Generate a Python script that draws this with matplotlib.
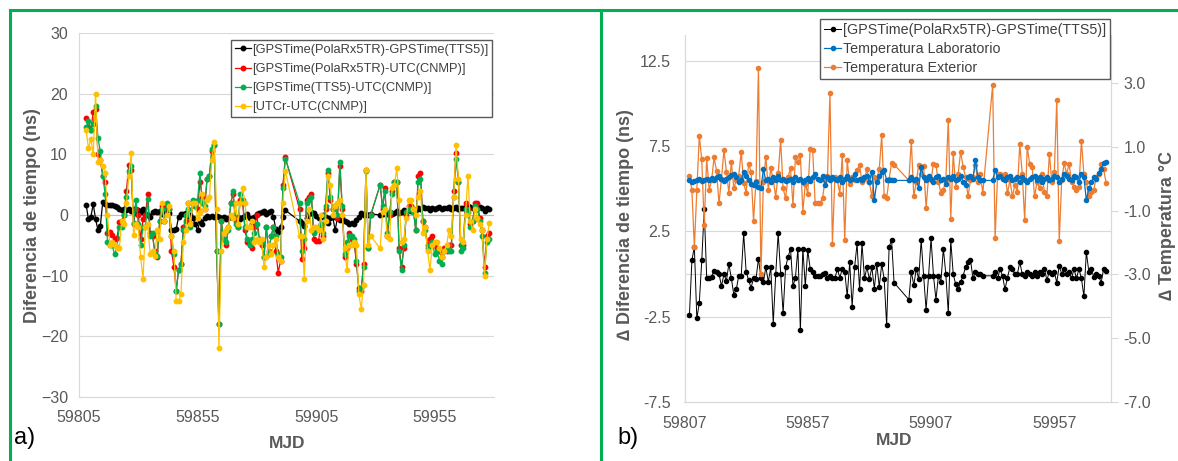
import numpy as np
import matplotlib.pyplot as plt
from matplotlib.lines import Line2D

plt.rcParams['font.family'] = ['Liberation Sans', 'DejaVu Sans']

## data: each series is split in 3 runs of consecutive days (gaps between runs)
a_starts = [59808, 59898, 59932]
b_starts = [59809, 59898, 59932]

# panel a) [ns]
a_black = [
    [1.7, -0.7, -0.3, 1.8, -0.7, -2.5, -1.8, 2.1, 1.8, 1.7,
     1.6, 1.6, 1.5, 1.3, 1.0, 0.8, 1.0, 0.8, 1.0, 0.7,
     1.0, 0.3, 0.8, 0.5, 1.0, 0.2, 0.0, -0.3, 0.5, 0.6,
     0.5, 0.7, 0.2, 0.5, 0.7, 0.3, -2.4, -2.5, -2.3, -0.3,
     0.2, 0.1, 0.3, -0.2, 0.0, -0.5, -1.5, -2.5, -1.0, -1.5,
     -0.5, -0.2, -0.3, -0.2, -0.4, -0.2, -0.3, -0.5, -0.3, -0.6,
     -0.5, -0.4, -0.3, -0.7, -0.3, -0.6, -0.4, -0.2, 0.2, -0.5,
     -1.5, -0.3, 0.2, 0.3, 0.5, 0.6, 0.2, 0.5, 0.6, -0.3,
     -2.3, -2.8, -2.0, -0.3, 0.8],
    [-1.0, -1.3, -1.8, -0.5, 0.2, 0.5, 0.4, -0.2, -0.5, -0.3,
     0.0, -0.3, -1.3, -0.5, -0.3, -2.5, -0.5, -0.8, -0.5, -1.0,
     -1.2, -1.5, -1.3, -1.5, -0.8, -0.3, 0.3, 0.0, 0.2, 0.0,
     0.2],
    [0.0, 0.2, 0.3, 0.1, 0.5, 0.2, 0.4, 0.6, 0.3, 0.5,
     0.8, 0.5, 0.9, 0.7, 1.0, 0.8, 1.2, 1.0, 1.3, 1.1,
     1.2, 0.9, 1.2, 1.0, 1.1, 1.3, 1.0, 1.2, 1.1, 1.4,
     1.0, 1.2, 1.3, 1.0, 1.2, 1.1, 1.4, 1.5, 1.3, 1.2,
     1.0, 1.4, 1.3, 1.2, 0.7, 1.2, 1.0],
]
a_red = [
    [16, 14.5, 14, 17, 17.5, 10, 9, 6.5, 5.5, -3,
     -2.8, -3.3, -4, -3.8, -1.2, -1, 0, 4, 8.3, 7.5,
     -1.5, 1, 0, -4, -0.7, 0, 3.5, -3, -3.5, -6,
     -7, -1, 1.5, -1, 1.5, 1, -6, -8.5, -12.5, -9,
     -8, -2, -1, 2, -1.5, 2, 1.5, 1, 5.5, 3,
     1, 6, 6.5, 10.5, 11.5, -6, -18, -1, -4, -5,
     -2, 2, 3.5, -1, -2, 2.5, 2, -2.5, -4.5, -5,
     -5.5, -2, 0, -4, -5, -7, -2, -6, -3.5, -2,
     -6, -9.5, -7.5, 5, 9.5],
    [1, -7.3, -5.5, 2.5, 3, 3.5, -4, -4.3, -4.3, -1.5,
     -3.5, 1, 7, 2.5, 1, 1.5, -0.5, 8, 1, -7,
     -5.5, -3, -4, -4.5, -8, -12, -12.5, -8, 7.5, -5.5,
     0],
    [5, 1, 4.5, -3.5, 0, 4, 5.5, 5.5, -5.5, -8.5,
     -5.5, 0, 1.5, 1.5, 1, -2.5, 6.5, 7, -1, -2,
     -5, -4, -3.5, -5, -5.5, -6, -7, -5.5, -6, -5,
     -5, 4, 10.3, 5.5, -5, -5, 2, 1, -1.5, -1,
     2, 2, -0.5, -2.5, -8.5, -3.5, -3],
]
a_green = [
    [14.5, 15.5, 14, 15, 18, 12.7, 10.5, 6.5, 3.5, -4.5,
     -5, -5, -6.5, -5.3, -2, -2, 0, 3, 7.3, 8,
     -1.3, 2.5, -1.5, -5, -2, -2, 2.7, -3.5, -3, -6.5,
     -6.8, -1, 1, -1, 2, 1, -3.5, -6.5, -12.5, -9,
     -8, -2.5, 0, 1, -2, 2.5, 1.5, 2.5, 7, 2,
     1.5, 6, 6.5, 10.8, 11.5, -6, -18, -1, -4, -4.5,
     -2.5, 2, 4, -1.5, -2, 3.5, 2.5, -2, -4, -5,
     -4, -3, -1.5, -4, -4.5, -7, -2, -6.5, -3.5, -2,
     -3.5, -6.5, -7, 4.5, 9.3],
    [2, -6, -4, 2, 2.5, 3, -3, -2.5, -2, -1.5,
     -3, 1.5, 7.5, 3, 1, 1.5, 0, 8.8, 1.5, -6.5,
     -4.5, -3.5, -3.5, -4, -7.5, -12.5, -12, -8.5, 7.3, -5.5,
     0],
    [5, 1.5, 4, -3, 0.5, 3.5, 5.5, 5.5, -6, -9,
     -5, 0.5, 1, 1, 0.5, -2.5, 5.5, 6, -1, -2.5,
     -5.5, -5, -4.5, -6.5, -6, -7.5, -8, -6, -5.5, -6,
     -6, 3, 9.3, 5.5, -6, -5.5, 1, 0.5, -2, -1,
     1.5, 1, -1, -3.5, -9.5, -4.5, -4],
]
a_yellow = [
    [14, 11, 12.5, 10, 20, 8.8, 9, 8, 7, 0,
     -5, -4.5, -5, -5.5, -5.5, -1, -1.5, 2, 6.5, 10.3,
     -3.3, -1.5, -2, -7, -10.5, -2, -1.5, -6.5, -6, -6.7,
     -2.5, -4, 2, -1, 0, 1.5, -3.5, -6, -14.2, -14.2,
     -13, -4.5, -2.5, 2, -1.5, 2, 2, -0.5, 0.5, 3.5,
     1, 2.5, 3, 9, 12, 1, -22, -6, -3, -2.5,
     -2, 0, -0.5, 2, -1.5, 2, 4.5, 2, -2, -2,
     -1, -4.5, -4, -4.5, -4, -8.5, -7, -5, -6.5, -5,
     -4, -7, -7.5, 2, 7.3],
    [-3.5, -3.5, -10.5, -1, 1, -2.5, -2, -2, -2.5, 0,
     -4, -1, 6.5, 5, 0, 1.5, 2, 2.5, 0, -5.5,
     -9, -5, -5, -4.5, -5, -13, -15.5, -11.5, 7.5, -5,
     -3.5],
    [-5.5, 0.5, 1, -3.5, -4, 4.5, 5, 7.7, 2.5, -4.5,
     -4, -0.5, 2.5, 2.5, 1, 0, 3, 4, -3, -2,
     -6, -9, -5, -4.5, -4.5, -5.5, -7, -6, -5, -2.5,
     -3.5, 3, 11.5, 6, -4, -4.5, 0, 6.5, -1, -2.5,
     1, -0.5, -1.5, -2.5, -10, -4, -1.3],
]

# panel b) delta time [ns] (left axis) and temperatures [C] (right axis)
b_black = [
    [-2.4, 0.8, 1.6, -2.6, -1.7, 0.8, 3.8, -0.2, -0.25, -0.15,
     0.2, 0.15, 0.0, -0.7, 0.0, -0.4, 0.6, -0.25, -1.2, -0.9,
     -0.1, -0.1, 2.4, 0.15, -0.35, -0.8, -0.25, -0.3, 0.9, -0.2,
     -0.45, 0.4, -0.45, 0.4, -2.9, 0.0, 2.4, 0.0, -2.3, 0.4,
     1.0, 1.5, -0.7, -0.2, 1.5, -3.3, 1.5, -0.7, 1.4, 0.3,
     0.15, -0.1, -0.1, -0.1, 0.0, 0.05, -0.25, -0.1, -0.25, -0.25,
     0.3, -0.2, 0.3, 0.15, -1.3, 0.7, -1.9, 0.4, 1.8, -0.9,
     1.8, -0.25, 0.4, -0.3, 0.4, -0.85, 0.6, -0.75, 0.6, -0.3,
     -3.0, 1.6, 2.0, -0.5],
    [-1.5, 0.15, -0.65, 0.3, -0.3, 2.0, -0.1, -2.1, -0.1, 2.1,
     -0.1, -1.5, -0.1, -0.45, 1.5, 0.0, -2.3, 2.0, 0.0, -0.6,
     -0.9, -0.45, -0.1, 0.4, 0.7, 0.85, -0.25, 0.15, 0.0, 0.0,
     -0.1],
    [-0.1, 0.15, -0.25, 0.3, -0.1, -0.9, -0.2, 0.4, 0.3, 0.0,
     0.0, 0.7, 0.0, -0.1, 0.15, 0.0, -0.1, 0.15, -0.1, 0.15,
     0.0, 0.3, -0.35, 0.15, 0.0, 0.15, -0.5, 0.5, 0.0, 0.3,
     0.0, 0.15, -0.25, 0.3, -0.25, 0.3, -0.25, -1.3, 1.3, 0.15,
     0.3, -0.15, 0.0, -0.1, -0.5, 0.3, 0.2],
]
b_lab = [
    [-0.05, -0.1, -0.08, -0.05, -0.02, -0.06, -0.03, 0.0, -0.05, 0.02,
     -0.04, 0.05, 0.1, -0.02, -0.08, 0.0, 0.05, 0.12, 0.15, 0.05,
     -0.1, -0.05, 0.2, 0.1, -0.05, -0.15, -0.2, -0.1, -0.25, -0.3,
     0.3, -0.05, 0.0, -0.1, 0.05, -0.05, 0.1, -0.05, 0.0, -0.08,
     -0.05, 0.0, -0.1, 0.05, -0.05, 0.0, -0.1, -0.05, 0.02, -0.08,
     0.05, 0.15, 0.0, -0.05, 0.1, -0.2, 0.05, -0.05, 0.05, 0.0,
     -0.05, 0.05, -0.1, 0.0, 0.1, -0.05, 0.0, 0.15, -0.05, 0.0,
     -0.05, 0.05, 0.1, -0.1, 0.22, -0.67, -0.1, 0.1, 0.22, 0.27,
     -0.05, -0.05, -0.05, -0.05],
    [-0.05, 0.05, -0.05, 0.0, -0.3, 0.38, 0.05, -0.05, 0.1, 0.0,
     -0.1, 0.05, 0.1, -0.05, 0.0, -0.15, 0.05, 0.0, 0.1, -0.05,
     0.0, 0.1, -0.1, -0.2, 0.05, 0.1, 0.0, 0.6, 0.05, -0.05,
     -0.05],
    [-0.05, 0.27, 0.05, 0.1, 0.0, -0.05, 0.05, 0.1, -0.05, 0.0,
     0.05, -0.1, 0.05, -0.05, -0.1, 0.0, 0.05, 0.1, -0.05, 0.05,
     -0.1, 0.0, 0.05, -0.05, 0.0, 0.1, 0.05, -0.1, 0.0, 0.15,
     0.1, 0.0, -0.05, 0.1, 0.05, -0.1, 0.15, 0.05, -0.67, -0.3,
     -0.1, 0.05, 0.0, 0.17, 0.3, 0.5, 0.53],
]
b_ext = [
    [0.08, -0.35, -2.15, -0.35, 1.34, 0.61, -1.45, 0.64, -0.35, -0.04,
     0.67, 0.25, -0.77, 0.01, 0.9, 0.22, -0.44, 0.53, -0.3, -0.04,
     0.1, 0.85, -0.14, -0.43, 0.48, 0.22, -1.32, -0.06, 3.49, -2.99,
     -0.1, 0.7, -0.35, 0.33, -0.04, -0.56, 0.17, 1.21, -0.3, -0.61,
     0.06, 0.33, -0.83, 0.69, 0.53, 0.74, -1.03, -0.15, -0.46, 0.95,
     0.9, -0.77, -0.77, -0.77, -0.61, -0.04, 0.1, 2.68, -2.03, 0.06,
     -0.04, -0.46, 0.74, -1.92, 0.58, -0.15, 0.06, -0.04, 0.27, 0.43,
     -0.1, 0.0, 0.3, -0.1, -0.55, 0.05, 0.0, 0.3, 1.37, -0.55,
     -0.6, 0.0, 0.5, 0.45],
    [-0.05, 1.2, -0.55, -0.1, 0.43, 0.15, 0.4, -0.9, 0.06, -0.05,
     0.48, 0.43, -0.1, -0.45, -0.35, -0.05, 1.85, -1.25, 0.8, -0.25,
     0.15, 0.85, 0.38, 0.06, -0.55, -0.05, 0.06, 0.43, -0.1, 0.15,
     -0.45],
    [2.95, -1.87, 0.15, 0.15, 0.1, 0.15, -0.45, -0.05, -0.55, -0.2,
     -0.4, 1.1, 0.15, -1.3, 1.0, 0.48, 0.38, -0.55, -0.1, -0.3,
     0.15, -0.4, -0.55, 0.78, -0.1, 0.2, 2.47, -1.95, -0.05, 0.5,
     0.15, 0.48, -0.1, -0.25, -0.35, -0.25, 1.2, 0.15, -0.1, -0.55,
     -0.4, -0.35, 0.06, 0.15, 0.48, 0.3, -0.12],
]

labels_a = ['[GPSTime(PolaRx5TR)-GPSTime(TTS5)]', '[GPSTime(PolaRx5TR)-UTC(CNMP)]',
            '[GPSTime(TTS5)-UTC(CNMP)]', '[UTCr-UTC(CNMP)]']
labels_b = ['[GPSTime(PolaRx5TR)-GPSTime(TTS5)]', 'Temperatura Laboratorio',
            'Temperatura Exterior']


def join(runs, starts):
    x = np.concatenate([s + np.arange(len(r)) for r, s in zip(runs, starts)])
    y = np.concatenate([np.asarray(r, float) for r in runs])
    return x, y


W, H = 1178, 461
GRID = '#d9d9d9'
TXT = '#595959'


def box(l, t, r, b):
    return [l / W, 1 - b / H, (r - l) / W, (b - t) / H]


fig = plt.figure(figsize=(W / 100, H / 100), dpi=100)

##panel a
ax1 = fig.add_axes(box(79, 33, 494, 397))
cols_a = ['#000000', '#ff0000', '#00b050', '#ffc000']
for runs, c, lab in zip([a_black, a_red, a_green, a_yellow], cols_a, labels_a):
    x, y = join(runs, a_starts)
    ax1.plot(x, y, '-o', color=c, lw=0.9, ms=3.2, label=lab)
ax1.set_xlim(59805, 59980)
ax1.set_ylim(-30, 30)
ax1.set_xticks([59805, 59855, 59905, 59955])
ax1.set_yticks(range(-30, 31, 10))
ax1.grid(axis='y', color=GRID, lw=0.8)
ax1.axhline(0, color='#bfbfbf', lw=0.8, zorder=1)
ax1.set_axisbelow(True)
for s in ['top', 'right']:
    ax1.spines[s].set_visible(False)
for s in ['left', 'bottom']:
    ax1.spines[s].set_color(GRID)
ax1.tick_params(axis='y', length=0, labelsize=11.5, labelcolor=TXT, pad=8)
ax1.tick_params(axis='x', length=0, labelsize=11.5, labelcolor=TXT, pad=9)
ax1.legend(loc='upper right', bbox_to_anchor=(492 / W, 1 - 40 / H), bbox_transform=fig.transFigure,
           fontsize=9.3, frameon=True, fancybox=False, edgecolor='#595959', framealpha=1,
           labelspacing=0.55, borderpad=0.3, handlelength=1.2, handletextpad=0.1,
           borderaxespad=0, numpoints=1, labelcolor='#404040')

##panel b
ax2 = fig.add_axes(box(684.5, 35.4, 1111, 402))
ax3 = ax2.twinx()
x, y = join(b_black, b_starts)
h1, = ax2.plot(x, y, '-o', color='#000000', lw=0.7, ms=3, label=labels_b[0])
x, y = join(b_ext, b_starts)
h3, = ax3.plot(x, y, '-o', color='#ed7d31', lw=0.9, ms=3, label=labels_b[2], zorder=2)
x, y = join(b_lab, b_starts)
h2, = ax3.plot(x, y, '-o', color='#0070c0', lw=0.9, ms=3, label=labels_b[1], zorder=3)

ax2.set_xlim(59807, 59980)
ax2.set_xticks([59807, 59857, 59907, 59957])
ax2.set_ylim(-7.5, 14)
ax2.set_yticks([-7.5, -2.5, 2.5, 7.5, 12.5])
ax2.set_yticklabels(['-7.5', '-2.5', '2.5', '7.5', '12.5'])
ax3.set_ylim(-7, 4.5)
ax3.set_yticks([-7, -5, -3, -1, 1, 3])
ax3.set_yticklabels(['-7.0', '-5.0', '-3.0', '-1.0', '1.0', '3.0'])
ax2.grid(axis='y', color=GRID, lw=0.8)
ax2.axhline(0, color=GRID, lw=0.8, zorder=1)
ax2.set_axisbelow(True)
for a in (ax2, ax3):
    a.spines['top'].set_visible(False)
    for s in ['left', 'right', 'bottom']:
        a.spines[s].set_color(GRID)
ax2.tick_params(length=0, labelsize=11.5, labelcolor=TXT, pad=10)
ax3.tick_params(length=5, width=0.8, color=GRID, labelsize=11.5, labelcolor=TXT, pad=4)
fig.legend([h1, h2, h3], labels_b, loc='upper right', bbox_to_anchor=(1110 / W, 1 - 19 / H),
           fontsize=10.3, frameon=True, fancybox=False, edgecolor='#595959', framealpha=1,
           labelspacing=0.33, borderpad=0.3, handlelength=1.2, handletextpad=0.1,
           borderaxespad=0, numpoints=1, labelcolor='#404040')

## titles
fig.text(33 / W, 1 - 216 / H, 'Diferencia de tiempo (ns)', rotation=90, ha='center', va='center',
         fontsize=13, fontweight='bold', color=TXT)
fig.text(287 / W, 1 - 443 / H, 'MJD', ha='center', va='center', fontsize=12.5,
         fontweight='bold', color=TXT)
fig.text(626 / W, 1 - 225 / H, '\u2206 Diferencia de tiempo (ns)', rotation=90, ha='center',
         va='center', fontsize=13, fontweight='bold', color=TXT)
fig.text(1167 / W, 1 - 225 / H, '\u2206 Temperatura \u00b0C', rotation=90, ha='center',
         va='center', fontsize=13, fontweight='bold', color=TXT)
fig.text(894 / W, 1 - 440 / H, 'MJD', ha='center', va='center', fontsize=12.5,
         fontweight='bold', color=TXT)
fig.text(14 / W, 1 - 438 / H, 'a)', ha='left', va='center', fontsize=17)
fig.text(617 / W, 1 - 438 / H, 'b)', ha='left', va='center', fontsize=17)

## green frames
GREEN = '#00b050'
for xs, ys in [([10, 1178], [10, 10]), ([10, 10], [10, 461]), ([600.5, 600.5], [10, 461])]:
    fig.add_artist(Line2D([v / W for v in xs], [1 - v / H for v in ys],
                          color=GREEN, lw=2.2, transform=fig.transFigure))

fig.savefig('out.png', dpi=100)
